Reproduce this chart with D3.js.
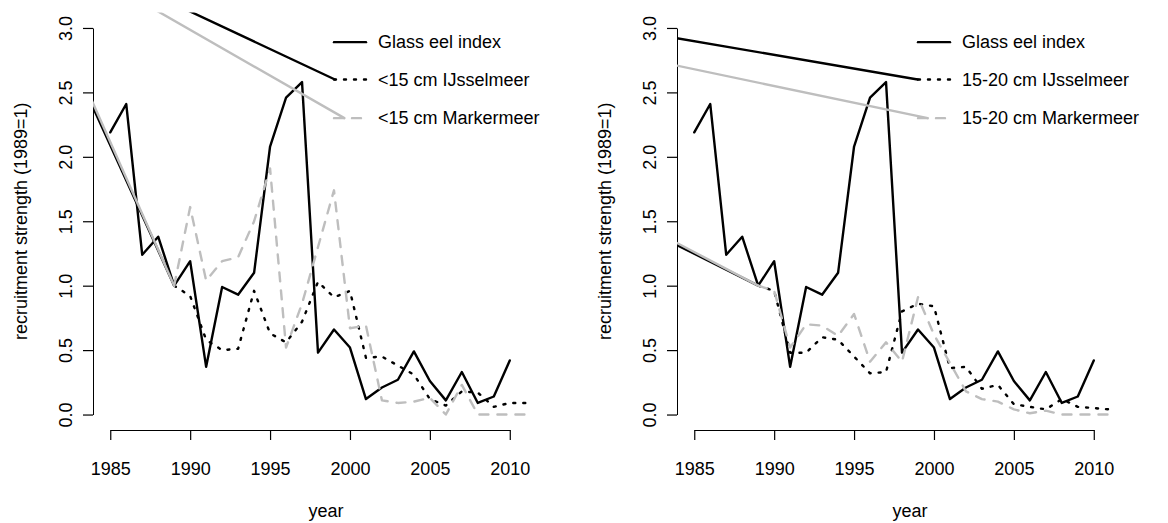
<!DOCTYPE html>
<html>
<head>
<meta charset="utf-8">
<script src="https://cdn.jsdelivr.net/npm/d3@7"></script>
<style>
body { margin: 0; background: #fff; }
svg { display: block; font-family: "Liberation Sans", Arial, sans-serif; }
</style>
</head>
<body>
<svg width="1168" height="523"></svg>
<script>
// values, 1989 = 1
var years = [1985, 1986, 1987, 1988, 1989, 1990, 1991, 1992, 1993, 1994, 1995, 1996, 1997, 1998,
    1999, 2000, 2001, 2002, 2003, 2004, 2005, 2006, 2007, 2008, 2009, 2010, 2011];

var glassEel = [2.19, 2.41, 1.24, 1.38, 1.00, 1.19, 0.37, 0.99, 0.93, 1.10, 2.08, 2.46, 2.58, 0.48,
    0.66, 0.52, 0.12, 0.21, 0.27, 0.49, 0.26, 0.11, 0.33, 0.09, 0.14, 0.42, null];

var ij15 = [null, null, null, null, 1.00, 0.92, 0.58, 0.50, 0.51, 0.96, 0.63, 0.56, 0.72, 1.03,
    0.91, 0.96, 0.44, 0.45, 0.38, 0.31, 0.12, 0.07, 0.18, 0.17, 0.06, 0.09, 0.09];
var mark15 = [null, null, null, null, 1.00, 1.61, 1.04, 1.19, 1.22, 1.50, 1.91, 0.52, 0.86, 1.30,
    1.74, 0.67, 0.69, 0.11, 0.09, 0.10, 0.13, 0.00, 0.23, 0.00, 0.00, 0.00, 0.00];

var ij20 = [null, null, null, null, 1.00, 0.96, 0.48, 0.48, 0.60, 0.58, 0.45, 0.32, 0.33, 0.80,
    0.86, 0.84, 0.36, 0.37, 0.20, 0.23, 0.08, 0.06, 0.04, 0.12, 0.06, 0.05, 0.04];
var mark20 = [null, null, null, null, 1.00, 0.96, 0.52, 0.70, 0.69, 0.61, 0.78, 0.41, 0.56, 0.41,
    0.91, 0.62, 0.40, 0.18, 0.12, 0.10, 0.04, 0.01, 0.03, 0.00, 0.00, 0.00, 0.00];

// the stray solid segments running from the legend keys to the 1989 points
var ij15Link = [[1999.06, 2.60], [1978.8, 3.78], [1989, 1.00]];
var mark15Link = [[1999.65, 2.30], [1979.1, 3.76], [1989, 1.00]];
var ij20Link = [[1998.98, 2.60], [1944.5, 3.76], [1989, 1.00]];
var mark20Link = [[1999.61, 2.30], [1948.8, 3.62], [1989, 1.00]];

var yTicks = [0, 0.5, 1, 1.5, 2, 2.5, 3];
var xTicks = [1985, 1990, 1995, 2000, 2005, 2010];

var legend15 = ["Glass eel index", "<15 cm IJsselmeer", "<15 cm Markermeer"];
var legend20 = ["Glass eel index", "15-20 cm IJsselmeer", "15-20 cm Markermeer"];

var svg = d3.select("svg");
var margin = {top: 12.5, right: 25, bottom: 93, left: 93},
    panelWidth = 584,
    width = panelWidth - margin.left - margin.right,
    height = +svg.attr("height") - margin.top - margin.bottom;

var x = d3.scaleLinear().domain([1983.92, 2013.08]).range([0, width]);
var y = d3.scaleLinear().domain([-0.12, 3.12]).range([height, 0]);

var grey = "#bebebe", lw = 2.4, dotted = "2,8", dashed = "9,9";

function pairs(vals) {
    return years.map(function(yr, i) { return [yr, vals[i]]; });
}

var line = d3.line()
    .defined(function(d) { return d[1] != null; })
    .x(function(d) { return x(d[0]); })
    .y(function(d) { return y(d[1]); });

function panel(idx, ij, mark, ijLink, markLink, labels) {
    var g = svg.append("g")
        .attr("transform", "translate(" + (idx * panelWidth + margin.left) + "," + margin.top + ")");

    g.append("clipPath").attr("id", "clip" + idx)
        .append("rect").attr("width", width).attr("height", height);

    // y axis
    var ya = g.append("g")
        .call(d3.axisLeft(y).tickValues(yTicks).tickSize(10).tickFormat(d3.format(".1f")));
    ya.select(".domain").remove();
    ya.append("line")
        .attr("x1", 0.5).attr("x2", 0.5)
        .attr("y1", y(0) + 0.5).attr("y2", y(3) + 0.5)
        .attr("stroke", "#000");
    ya.selectAll(".tick text")
        .attr("x", null).attr("dy", null)
        .attr("transform", "translate(-21,0) rotate(-90)")
        .attr("text-anchor", "middle");

    // x axis
    var xa = g.append("g")
        .attr("transform", "translate(0," + height + ")")
        .call(d3.axisBottom(x).tickValues(xTicks).tickSize(10).tickFormat(d3.format("d")));
    xa.select(".domain").remove();
    xa.append("line")
        .attr("x1", x(1985) + 0.5).attr("x2", x(2010) + 0.5)
        .attr("y1", 0.5).attr("y2", 0.5)
        .attr("stroke", "#000");
    xa.selectAll(".tick text").attr("dy", null).attr("y", 44.5);

    g.selectAll(".tick line").attr("stroke", "#000").attr("stroke-width", 1.2);
    g.selectAll(".tick text").attr("font-size", 18).attr("fill", "#000")
        .style("font-family", "'Liberation Sans', Arial, sans-serif");

    g.append("text")
        .attr("x", width / 2).attr("y", height + 86.5)
        .attr("text-anchor", "middle").attr("font-size", 18)
        .text("year");
    g.append("text")
        .attr("transform", "translate(-66.5," + (height / 2) + ") rotate(-90)")
        .attr("text-anchor", "middle").attr("font-size", 18)
        .text("recruitment strength (1989=1)");

    var plot = g.append("g").attr("clip-path", "url(#clip" + idx + ")")
        .attr("fill", "none").attr("stroke-width", lw)
        .attr("stroke-linecap", "round").attr("stroke-linejoin", "round");

    plot.append("path").attr("d", line(pairs(glassEel))).attr("stroke", "#000");
    plot.append("path").attr("d", line(ijLink)).attr("stroke", "#000");
    plot.append("path").attr("d", line(pairs(ij))).attr("stroke", "#000")
        .attr("stroke-dasharray", dotted);
    plot.append("path").attr("d", line(markLink)).attr("stroke", grey);
    plot.append("path").attr("d", line(pairs(mark))).attr("stroke", grey)
        .attr("stroke-dasharray", dashed);

    // legend, placed in user coordinates like R's legend()
    var legendX = 1999.0, legendRows = [2.89, 2.60, 2.30];
    var styles = [
        {stroke: "#000", dash: null},
        {stroke: "#000", dash: dotted},
        {stroke: grey, dash: dashed}
    ];
    var lg = g.append("g").selectAll("g")
        .data(labels)
        .enter().append("g")
        .attr("transform", function(d, i) {
            return "translate(" + x(legendX) + "," + y(legendRows[i]) + ")";
        });
    lg.append("line")
        .attr("x1", 0).attr("x2", 32)
        .attr("stroke", function(d, i) { return styles[i].stroke; })
        .attr("stroke-dasharray", function(d, i) { return styles[i].dash; })
        .attr("stroke-width", lw).attr("stroke-linecap", "round");
    lg.append("text")
        .attr("x", 44).attr("dy", "0.35em")
        .attr("font-size", 18)
        .text(function(d) { return d; });
}

panel(0, ij15, mark15, ij15Link, mark15Link, legend15);
panel(1, ij20, mark20, ij20Link, mark20Link, legend20);
</script>
</body>
</html>
